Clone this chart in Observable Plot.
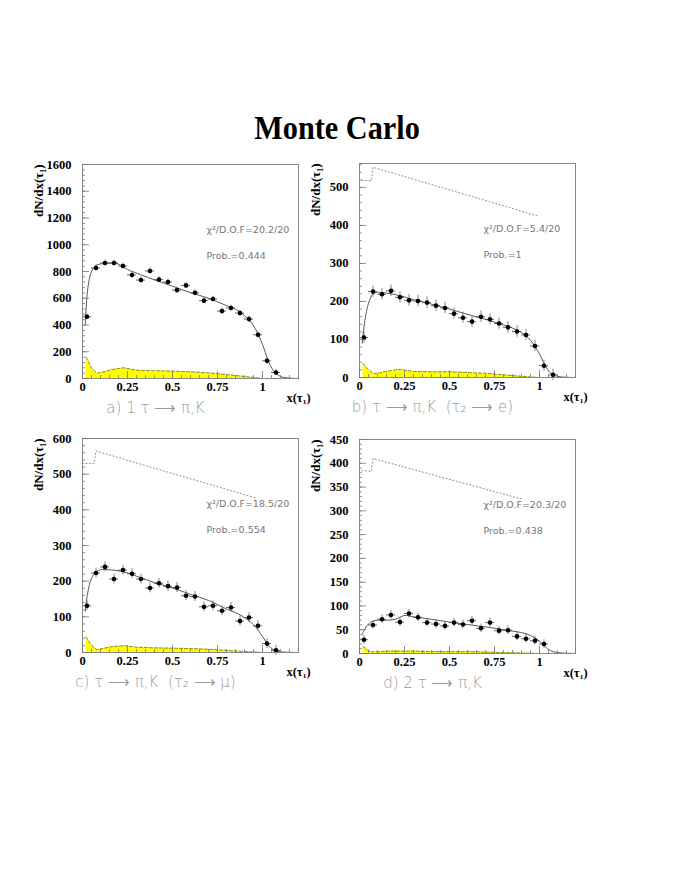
<!DOCTYPE html>
<html><head><meta charset="utf-8">
<script src="https://cdn.jsdelivr.net/npm/d3@7"></script>
<script src="https://cdn.jsdelivr.net/npm/@observablehq/plot@0.6"></script>
<style>
body{margin:0;background:#fff;}
#wrap{position:relative;width:674px;height:872px;background:#fff;overflow:hidden;}
#title{position:absolute;left:0;width:674px;top:110px;text-align:center;}
#title span{display:inline-block;font-family:"Liberation Serif",serif;font-weight:bold;font-size:34px;line-height:36px;transform:scaleX(0.89);}
</style></head><body><div id="wrap"><div id="title"><span>Monte Carlo</span></div></div>
<script>
// ---- data ----
const binCenters = [0.025,0.075,0.125,0.175,0.225,0.275,0.325,0.375,0.425,0.475,0.525,0.575,0.625,0.675,0.725,0.775,0.825,0.875,0.925,0.975,1.025,1.075];
const halfBin = 0.025;
const dataA = [462,826,864,864,841,774,736,804,739,721,661,696,641,582,594,504,527,489,444,327,132,45];
const dataB = [105,226,219,228,211,203,201,197,189,183,168,157,147,160,153,142,132,121,112,83,31,7];
const dataC = [131,223,240,206,231,221,206,181,194,186,182,159,157,128,131,117,126,88,98,75,25,6];
const dataD = [29,60,72,81,66,84,76,65,62,58,65,61,69,53,65,48,49,36,31,27,20];
const errA = 22, errB = 15, errC = 14, errD = 9;

const fitX = [0.015,0.03,0.05,0.075,0.1,0.15,0.2,0.25,0.3,0.4,0.5,0.6,0.7,0.8,0.85,0.9,0.95,1.0,1.03,1.06,1.1,1.15,1.2];
const fitA = [400,680,800,845,856,862,855,815,788,738,690,642,600,545,518,470,395,255,140,60,15,3,0];
const fitB = [90,150,195,220,224,222,218,212,205,193,180,166,153,138,130,118,98,62,33,12,3,0.5,0];
const fitC = [115,170,208,226,232,232,229,223,214,196,181,163,146,122,112,98,78,45,22,8,2,0.5,0];
const fitD = [40,52,62,68,70,70,72,80,77,72,66,61,56,50,47,44,38,26,15,6,2,0.5,0];

const bgX = [0.02,0.05,0.08,0.12,0.16,0.2,0.23,0.3,0.4,0.5,0.6,0.7,0.8,0.9,1.0];
const bgA = [160,80,40,50,65,75,80,62,58,55,50,42,30,15,0];
const bgB = [37,20,10,13,17,20,21,16,15,15,13,11,7,3,0];
const bgC = [44,20,8,12,16,18,19,15,13,12,11,9,6,3,0];
const bgD = [15,6,3,4,5,5,5,5,4,4,4,3,2,1,0];

const dotBX = [0,0,0.065,0.075,0.99], dotBY = [0,518,518,553,425];
const dotCX = [0,0,0.065,0.075,0.97], dotCY = [0,530,530,565,432];
const dotDX = [0,0,0.065,0.075,0.9],  dotDY = [0,385,383,410,325];

const yTicksA = [0,200,400,600,800,1000,1200,1400,1600];
const yTicksB = [0,100,200,300,400,500];
const yTicksC = [0,100,200,300,400,500,600];
const yTicksD = [0,50,100,150,200,250,300,350,400,450];
const xTicks = [0,0.25,0.5,0.75,1];

const chiTexts = ["χ²/D.O.F=20.2/20","χ²/D.O.F=5.4/20","χ²/D.O.F=18.5/20","χ²/D.O.F=20.3/20"];
const probTexts = ["Prob.=0.444","Prob.=1","Prob.=0.554","Prob.=0.438"];
const captions = ["a) 1 τ ⟶ π,K",
  "b) τ ⟶ π,K \u00a0(τ₂ ⟶ e)",
  "c) τ ⟶ π,K \u00a0(τ₂ ⟶ μ)",
  "d) 2 τ ⟶ π,K"];

// ---- drawing ----
const W = 216, H = 214, ML = 82, MT = 10, MB = 50, MR = 30;
const serif = "Liberation Serif, Times New Roman, serif";
const sans = "DejaVu Sans, sans-serif";

function panel(o) {
  const pts = o.data.map((y, i) => ({x: binCenters[i], y}));
  const fit = fitX.map((x, i) => ({x, y: o.fit[i]}));
  const bg = bgX.map((x, i) => ({x, y: o.bg[i]}));
  const dot = o.dotX ? o.dotX.map((x, i) => ({x, y: o.dotY[i]})) : [];
  const yMajor = o.yTicks;
  const step = yMajor[1] - yMajor[0];
  const yMinor = d3.range(0, o.ymax + 1e-9, step / 5);
  const xMinor = d3.range(0, 1.2001, 0.05);
  const marks = [
    Plot.areaY(bg, {x: "x", y: "y", fill: "#ffff00"}),
    Plot.line(bg, {x: "x", y: "y", stroke: "#666", strokeWidth: 0.8, strokeDasharray: "3,2"}),
    Plot.line(dot, {x: "x", y: "y", stroke: "#888", strokeWidth: 1, strokeDasharray: "1,2.5"}),
    Plot.line(fit, {x: "x", y: "y", stroke: "#444", strokeWidth: 0.9, curve: "catmull-rom"}),
    Plot.ruleY(pts, {y: "y", x1: d => d.x - halfBin, x2: d => d.x + halfBin, stroke: "#444", strokeWidth: 0.8}),
    Plot.ruleX(pts, {x: "x", y1: d => d.y - o.err, y2: d => d.y + o.err, stroke: "#666", strokeWidth: 0.8}),
    Plot.dot(pts, {x: "x", y: "y", r: 2.3, fill: "#000", stroke: null}),
    Plot.frame({stroke: "#888", strokeWidth: 1}),
    Plot.tickY(yMinor, {y: d => d, insetRight: W - 3, stroke: "#777", strokeWidth: 0.8}),
    Plot.tickY(yMajor, {y: d => d, insetRight: W - 7, stroke: "#777", strokeWidth: 0.8}),
    Plot.tickX(xMinor, {x: d => d, insetTop: H - 3, stroke: "#777", strokeWidth: 0.8}),
    Plot.tickX(xTicks, {x: d => d, insetTop: H - 7, stroke: "#777", strokeWidth: 0.8}),
    Plot.axisY({ticks: yMajor, tickSize: 0, tickPadding: 11, label: null, tickFormat: d => String(d),
      fontSize: 12.5, fontWeight: "bold", fontFamily: serif}),
    Plot.axisX({ticks: xTicks, tickSize: 0, tickPadding: 4, label: null, tickFormat: d => String(d),
      fontSize: 12.5, fontWeight: "bold", fontFamily: serif}),
    Plot.text(["dN/dx(τ₁)"], {frameAnchor: "top-left", rotate: -90, textAnchor: "end", dx: -49, dy: 0,
      fontSize: 13, fontWeight: "bold", fontFamily: serif, fill: "#000"}),
    Plot.text(["x(τ₁)"], {frameAnchor: "bottom-right", textAnchor: "middle", dx: 0, dy: 23,
      fontSize: 12.5, fontWeight: "bold", fontFamily: serif, fill: "#000"}),
    Plot.text([o.caption], {frameAnchor: "bottom-left", textAnchor: "middle", dx: 73, dy: 34,
      fontSize: 15, fontWeight: 200, fontFamily: sans, fill: "#999"}),
    Plot.text([o.chi], {frameAnchor: "top-left", textAnchor: "start", dx: 124, dy: 62,
      fontSize: 9.5, fontFamily: sans, fill: "#777"}),
    Plot.text([o.prob], {frameAnchor: "top-left", textAnchor: "start", dx: 124, dy: 88,
      fontSize: 9.5, fontFamily: sans, fill: "#777"})
  ];
  const svg = Plot.plot({
    width: ML + W + MR, height: MT + H + MB,
    marginLeft: ML, marginRight: MR, marginTop: MT, marginBottom: MB,
    x: {domain: [0, 1.2]}, y: {domain: [0, o.ymax]},
    style: {background: "transparent", overflow: "visible"},
    marks
  });
  svg.style.position = "absolute";
  svg.style.left = o.left + "px";
  svg.style.top = o.top + "px";
  document.getElementById("wrap").appendChild(svg);
}

panel({data: dataA, err: errA, fit: fitA, bg: bgA, ymax: 1600, yTicks: yTicksA,
  chi: chiTexts[0], prob: probTexts[0], caption: captions[0], left: 0, top: 154});
panel({data: dataB, err: errB, fit: fitB, bg: bgB, dotX: dotBX, dotY: dotBY, ymax: 563, yTicks: yTicksB,
  chi: chiTexts[1], prob: probTexts[1], caption: captions[1], left: 277, top: 153});
panel({data: dataC, err: errC, fit: fitC, bg: bgC, dotX: dotCX, dotY: dotCY, ymax: 600, yTicks: yTicksC,
  chi: chiTexts[2], prob: probTexts[2], caption: captions[2], left: 0, top: 428});
panel({data: dataD, err: errD, fit: fitD, bg: bgD, dotX: dotDX, dotY: dotDY, ymax: 450, yTicks: yTicksD,
  chi: chiTexts[3], prob: probTexts[3], caption: captions[3], left: 277, top: 429});
</script></body></html>
